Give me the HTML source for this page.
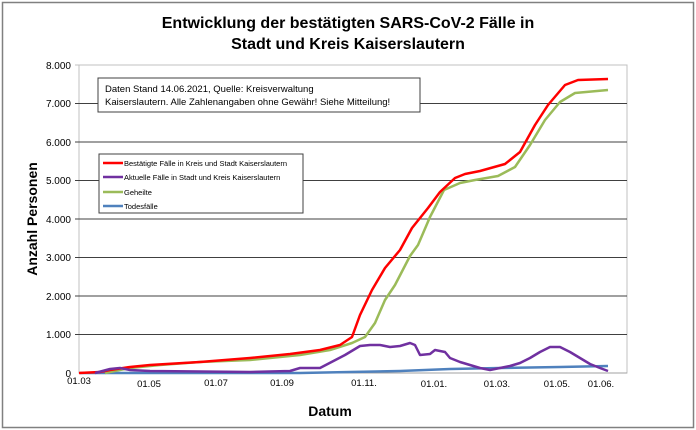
<!DOCTYPE html>
<html><head><meta charset="utf-8"><style>
body{margin:0;background:#fff;}
svg{display:block;font-family:"Liberation Sans",sans-serif;}
</style></head><body>
<svg width="696" height="430" viewBox="0 0 696 430">
<rect x="2.5" y="2.5" width="691" height="425" fill="#fff" stroke="#808080" stroke-width="1.5"/>
<text x="348" y="28" text-anchor="middle" font-size="16" font-weight="bold">Entwicklung der bestätigten SARS-CoV-2 Fälle in</text>
<text x="348" y="49" text-anchor="middle" font-size="16" font-weight="bold">Stadt und Kreis Kaiserslautern</text>
<rect x="79" y="65" width="548" height="308" fill="#fff" stroke="#c0c0c0"/>
<g stroke="#404040" stroke-width="1">
<line x1="75" y1="65" x2="627" y2="65" stroke="#c0c0c0"/>
<line x1="75" y1="103.5" x2="627" y2="103.5"/>
<line x1="75" y1="142" x2="627" y2="142"/>
<line x1="75" y1="180.5" x2="627" y2="180.5"/>
<line x1="75" y1="219" x2="627" y2="219"/>
<line x1="75" y1="257.5" x2="627" y2="257.5"/>
<line x1="75" y1="296" x2="627" y2="296"/>
<line x1="75" y1="334.5" x2="627" y2="334.5"/>
<line x1="79" y1="373" x2="627" y2="373" stroke="#a0a0a0"/>
</g>
<g font-size="10" text-anchor="end" fill="#000">
<text x="71" y="69">8.000</text><text x="71" y="107">7.000</text><text x="71" y="146">6.000</text>
<text x="71" y="184">5.000</text><text x="71" y="223">4.000</text><text x="71" y="261">3.000</text>
<text x="71" y="300">2.000</text><text x="71" y="338">1.000</text><text x="71" y="377">0</text>
</g>
<g font-size="9.5" text-anchor="middle">
<text x="79" y="384">01.03</text><text x="149" y="387">01.05</text><text x="216" y="386">01.07</text>
<text x="282" y="386">01.09</text><text x="364" y="386">01.11.</text><text x="434" y="387">01.01.</text>
<text x="497" y="387">01.03.</text><text x="557" y="387">01.05.</text><text x="601" y="387">01.06.</text>
</g>
<text x="330" y="416" text-anchor="middle" font-size="14" font-weight="bold">Datum</text>
<text transform="translate(37,219) rotate(-90)" text-anchor="middle" font-size="14" font-weight="bold">Anzahl Personen</text>
<g fill="none" stroke-width="2.5" stroke-linejoin="round">
<polyline stroke="#4f81bd" points="80,373 300,373 350,372 400,371 450,369 500,368 560,367 608,366"/>
<polyline stroke="#9bbb59" points="105,373 130,368 160,365 200,362 250,360 300,355 330,350 352,343 365,337 375,323 385,300 395,285 410,256 418,245 430,217 444,190 460,183 475,180 498,176 515,167 530,145 545,120 560,102 575,93 608,90"/>
<polyline stroke="#ff0000" points="79,373 100,372 110,370 130,367 150,365 200,362 250,358 290,354 320,350 340,345 352,337 360,315 372,290 385,268 400,250 412,228 428,208 440,192 455,178 465,174 480,171 505,164 520,152 535,125 548,105 565,85 578,80 608,79"/>
<polyline stroke="#7030a0" points="95,373 110,369 120,368 130,370 150,371 250,372 290,371 300,368 320,368 345,355 350,352 360,346 370,345 380,345 390,347 400,346 410,343 415,345 420,355 430,354 435,350 445,352 450,358 460,362 470,365 480,368 490,370 500,368 510,366 520,363 530,358 540,352 550,347 560,347 570,352 580,358 590,364 600,368 608,371"/>
</g>
<rect x="98" y="78" width="322" height="34" fill="#fff" stroke="#404040"/>
<text x="105" y="92" font-size="9.5">Daten Stand 14.06.2021, Quelle: Kreisverwaltung</text>
<text x="105" y="105" font-size="9.5">Kaiserslautern. Alle Zahlenangaben ohne Gewähr! Siehe Mitteilung!</text>
<rect x="99" y="154" width="204" height="59" fill="#fff" stroke="#404040"/>
<g stroke-width="2.5">
<line x1="103" y1="163" x2="123" y2="163" stroke="#ff0000"/>
<line x1="103" y1="177" x2="123" y2="177" stroke="#7030a0"/>
<line x1="103" y1="192" x2="123" y2="192" stroke="#9bbb59"/>
<line x1="103" y1="206" x2="123" y2="206" stroke="#4f81bd"/>
</g>
<g font-size="7.5">
<text x="124" y="166">Bestätigte Fälle in Kreis und Stadt Kaiserslautern</text>
<text x="124" y="180">Aktuelle Fälle in Stadt und Kreis Kaiserslautern</text>
<text x="124" y="195">Geheilte</text>
<text x="124" y="209">Todesfälle</text>
</g>
</svg>
</body></html>
